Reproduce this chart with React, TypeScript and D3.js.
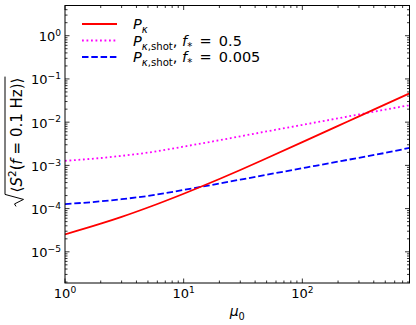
import React, { useEffect, useRef } from 'react';
import * as d3 from 'd3';

// values (log-log)
const mu = [1, 2, 3, 5, 10, 20, 30, 50, 100, 200, 300, 500, 800];
const pKappa = [2.53e-5, 4.47e-5, 6.43e-5, 1.06e-4, 2.21e-4, 4.83e-4, 7.82e-4, 1.46e-3, 3.44e-3, 8.18e-3, 0.0136, 0.0257, 0.0462];
const pShotHalf = [1.276e-3, 1.48e-3, 1.66e-3, 1.97e-3, 2.72e-3, 3.82e-3, 4.71e-3, 6.1e-3, 8.65e-3, 0.01227, 0.01507, 0.01954, 0.0247];
const pShotSmall = [1.271e-4, 1.472e-4, 1.652e-4, 1.963e-4, 2.71e-4, 3.8e-4, 4.68e-4, 6.07e-4, 8.61e-4, 1.222e-3, 1.5e-3, 1.945e-3, 2.54e-3];
const xDomain = [1, 800];
const yDomain = [1.9e-6, 5];
const xMajor = [0, 1, 2];
const yMajor = [-5, -4, -3, -2, -1, 0];

type Seg = { t: string; it?: boolean; sub?: boolean; sup?: boolean };

const legendRows: { color: string; dash: string | null; segs: Seg[] }[] = [
    { color: '#ff0000', dash: null, segs: [{ t: 'P', it: true }, { t: 'κ', it: true, sub: true }] },
    {
        color: '#ff00ff', dash: '1.8,2.7', segs: [
            { t: 'P', it: true }, { t: 'κ', it: true, sub: true }, { t: ',shot', sub: true },
            { t: ', ' }, { t: 'f', it: true }, { t: '*', sub: true }, { t: '\u2002=\u20020.5' }]
    },
    {
        color: '#0000ff', dash: '6.5,2.8', segs: [
            { t: 'P', it: true }, { t: 'κ', it: true, sub: true }, { t: ',shot', sub: true },
            { t: ', ' }, { t: 'f', it: true }, { t: '*', sub: true }, { t: '\u2002=\u20020.005' }]
    },
];

const FONT = 'DejaVu Sans';

function addSegs(text: any, segs: Seg[], size: number) {
    let shift = 0;
    segs.forEach(s => {
        const target = s.sub ? size * 0.3 : s.sup ? -size * 0.4 : 0;
        text.append('tspan')
            .attr('dy', target - shift)
            .style('font-style', s.it ? 'italic' : 'normal')
            .style('font-size', (s.sub || s.sup ? size * 0.7 : size) + 'px')
            .text(s.t);
        shift = target;
    });
}

function App() {
    const svgRef = useRef<SVGSVGElement>(null);
    const W = 416, H = 325;
    const margin = { top: 5.5, right: 6.5, bottom: 42, left: 65 };

    useEffect(() => {
        const svg = d3.select(svgRef.current);
        svg.selectAll('*').remove();
        const x = d3.scaleLog().domain(xDomain).range([margin.left, W - margin.right]);
        const y = d3.scaleLog().domain(yDomain).range([H - margin.bottom, margin.top]);
        const [x0, x1] = x.range();
        const [y0, y1] = y.range();

        svg.append('rect').attr('width', W).attr('height', H).attr('fill', '#fff');

        svg.append('clipPath').attr('id', 'plotclip').append('rect')
            .attr('x', x0).attr('y', y1).attr('width', x1 - x0).attr('height', y0 - y1);

        const line = d3.line<number>()
            .x((_, i) => x(mu[i]))
            .y(d => y(d))
            .curve(d3.curveMonotoneX);

        const curves = svg.append('g').attr('clip-path', 'url(#plotclip)');
        [pShotHalf, pShotSmall, pKappa].forEach((vals, k) => {
            const row = legendRows[[1, 2, 0][k]];
            curves.append('path')
                .attr('d', line(vals))
                .attr('fill', 'none')
                .attr('stroke', row.color)
                .attr('stroke-width', 1.8)
                .attr('stroke-dasharray', row.dash);
        });

        // ticks on all four sides, pointing inward
        const ticks = svg.append('g').attr('stroke', '#000').attr('stroke-width', 0.8);
        const xMinor: number[] = [];
        xMajor.forEach(e => d3.range(2, 10).forEach(k => { const v = k * 10 ** e; if (v <= xDomain[1]) xMinor.push(v); }));
        const yMinor: number[] = [];
        d3.range(-6, 1).forEach(e => d3.range(2, 10).forEach(k => {
            const v = k * 10 ** e; if (v >= yDomain[0] && v <= yDomain[1]) yMinor.push(v);
        }));
        const xt = (v: number, len: number) => {
            ticks.append('line').attr('x1', x(v)).attr('x2', x(v)).attr('y1', y0).attr('y2', y0 - len);
            ticks.append('line').attr('x1', x(v)).attr('x2', x(v)).attr('y1', y1).attr('y2', y1 + len);
        };
        const yt = (v: number, len: number) => {
            ticks.append('line').attr('y1', y(v)).attr('y2', y(v)).attr('x1', x0).attr('x2', x0 + len);
            ticks.append('line').attr('y1', y(v)).attr('y2', y(v)).attr('x1', x1).attr('x2', x1 - len);
        };
        xMajor.forEach(e => xt(10 ** e, 4.5));
        xMinor.forEach(v => xt(v, 2.5));
        yMajor.forEach(e => yt(10 ** e, 4.5));
        yMinor.forEach(v => yt(v, 2.5));

        svg.append('rect')
            .attr('x', x0).attr('y', y1).attr('width', x1 - x0).attr('height', y0 - y1)
            .attr('fill', 'none').attr('stroke', '#000').attr('stroke-width', 1);

        const fmt = (e: number) => (e < 0 ? '\u2212' + -e : String(e));

        xMajor.forEach(e => {
            const t = svg.append('text')
                .attr('x', x(10 ** e)).attr('y', y0 + 15)
                .attr('text-anchor', 'middle')
                .style('font-family', FONT).style('font-size', '13px');
            addSegs(t, [{ t: '10' }, { t: fmt(e), sup: true }], 13);
        });
        yMajor.forEach(e => {
            const t = svg.append('text')
                .attr('x', x0 - 4).attr('y', y(10 ** e) + 5.5)
                .attr('text-anchor', 'end')
                .style('font-family', FONT).style('font-size', '13px');
            addSegs(t, [{ t: '10' }, { t: fmt(e), sup: true }], 13);
        });

        // x label
        const xl = svg.append('text')
            .attr('x', (x0 + x1) / 2).attr('y', 316)
            .attr('text-anchor', 'middle')
            .style('font-family', FONT).style('font-size', '14px');
        addSegs(xl, [{ t: 'μ', it: true }, { t: '0', sub: true }], 14);

        // y label: sqrt of <S^2(f = 0.1 Hz)>
        const yg = svg.append('g').attr('transform', 'translate(22,142) rotate(-90)');
        const yt2 = yg.append('text')
            .style('font-family', FONT).style('font-size', '15px');
        addSegs(yt2, [{ t: '⟨' }, { t: 'S', it: true }, { t: '2', sup: true }, { t: '(' },
            { t: 'f', it: true }, { t: ' = 0.1 Hz)⟩' }], 15);
        const L = (yt2.node() as SVGTextElement).getComputedTextLength();
        const rad = 14;
        const start = -(L + rad) / 2;
        yt2.attr('x', start + rad);
        yg.append('path')
            .attr('d', `M${start},-6 L${start + 2.5},-7.5 L${start + 7},1.5 L${start + 12},-17 L${start + rad + L + 1},-17`)
            .attr('fill', 'none').attr('stroke', '#000').attr('stroke-width', 1);

        // legend
        legendRows.forEach((r, i) => {
            const ly = 24 + i * 16.5;
            svg.append('line')
                .attr('x1', 82).attr('x2', 117).attr('y1', ly).attr('y2', ly)
                .attr('stroke', r.color).attr('stroke-width', 1.8)
                .attr('stroke-dasharray', r.dash);
            const t = svg.append('text')
                .attr('x', 133).attr('y', ly + 5)
                .style('font-family', FONT).style('font-size', '14.5px');
            addSegs(t, r.segs, 14.5);
        });
    }, []);

    return (
        <svg ref={svgRef} width={W} height={H}
            style={{ position: 'absolute', left: 0, top: 0, display: 'block' }} />
    );
}

export default App;
